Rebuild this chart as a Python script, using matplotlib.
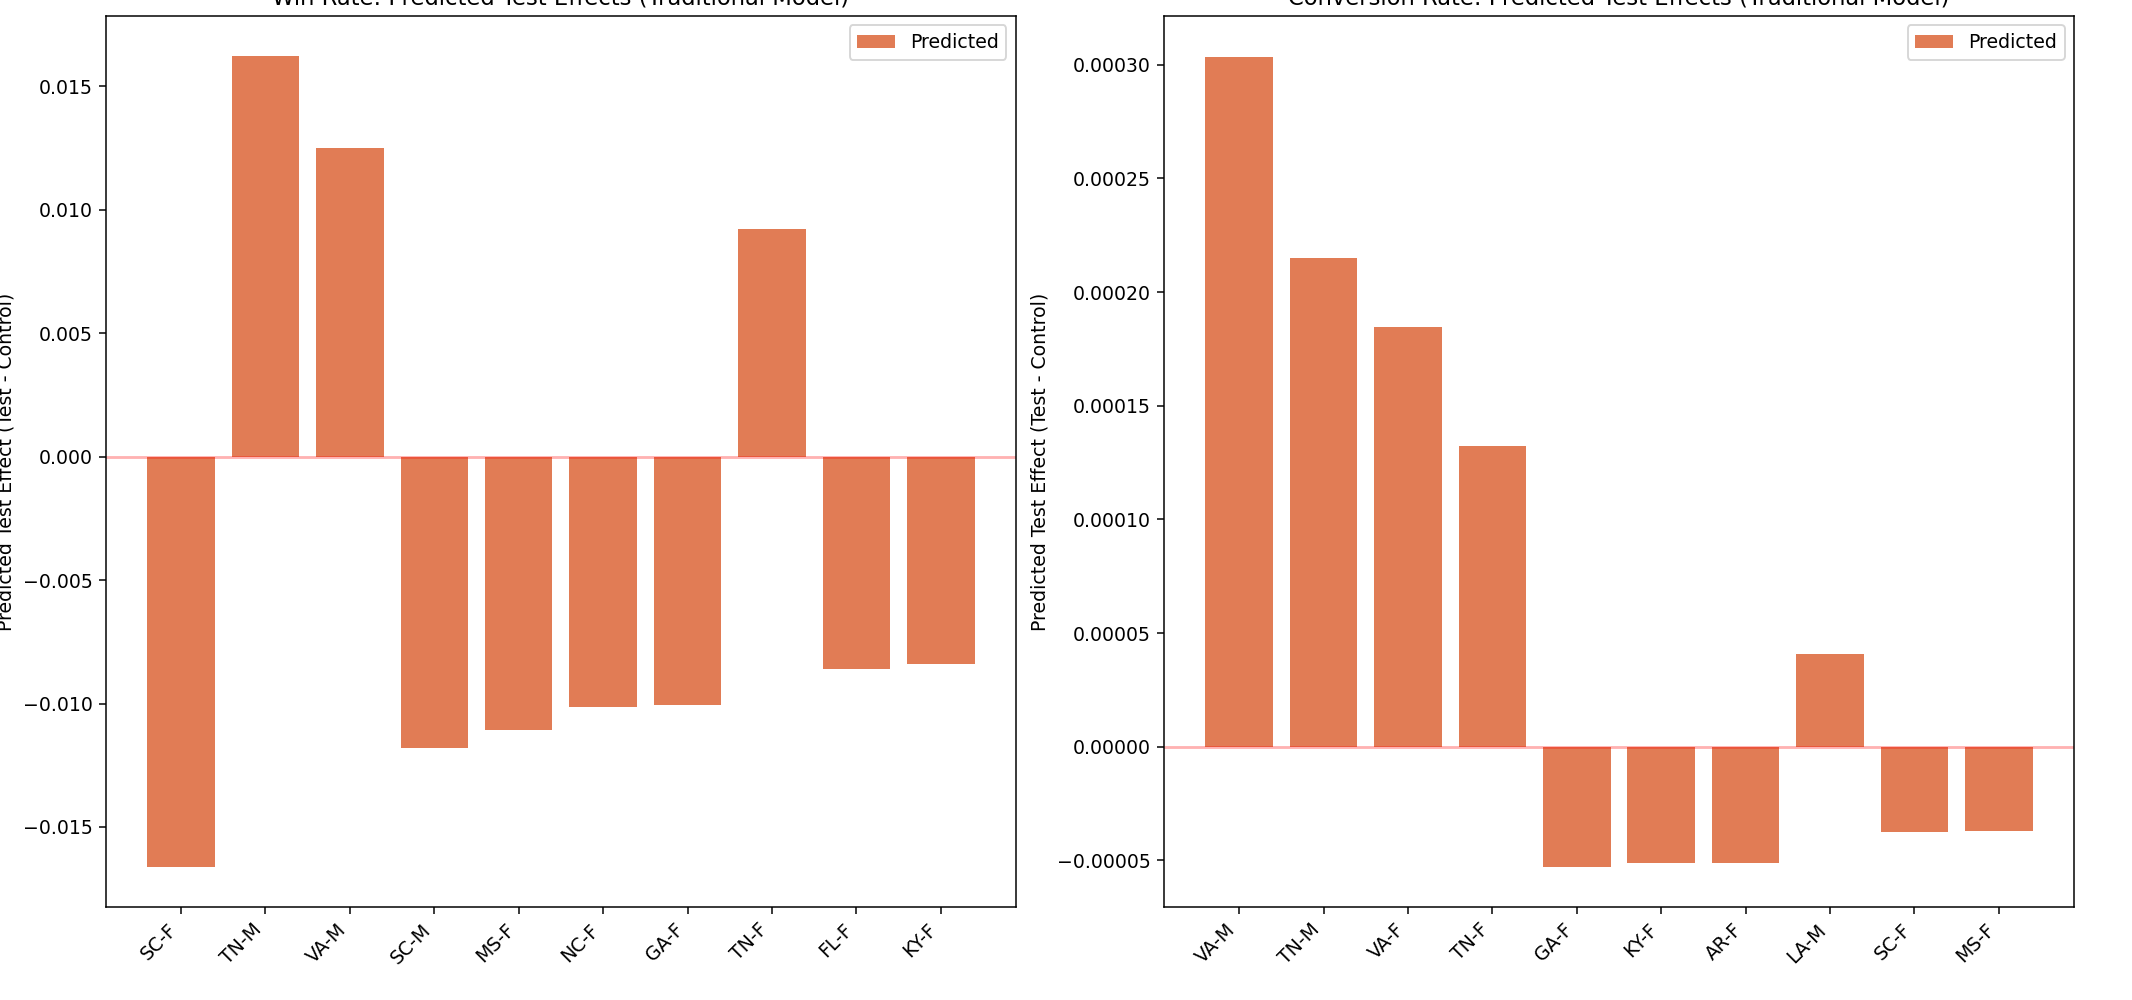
import matplotlib
matplotlib.use("Agg")
import matplotlib.pyplot as plt

# ---- data ----
win_labels = ["SC-F", "TN-M", "VA-M", "SC-M", "MS-F", "NC-F", "GA-F", "TN-F", "FL-F", "KY-F"]
win_values = [-0.01660, 0.01621, 0.01252, -0.01180, -0.01108, -0.01015, -0.01004, 0.00921, -0.00860, -0.00838]

conv_labels = ["VA-M", "TN-M", "VA-F", "TN-F", "GA-F", "KY-F", "AR-F", "LA-M", "SC-F", "MS-F"]
conv_values = [0.0003036, 0.0002150, 0.0001844, 0.0001323, -0.0000527, -0.0000510, -0.0000510,
               0.0000407, -0.0000377, -0.0000371]

titles = ["Win Rate: Predicted Test Effects (Traditional Model)",
          "Conversion Rate: Predicted Test Effects (Traditional Model)"]
ylabel = "Predicted Test Effect (Test - Control)"

DPI = 136
fig = plt.figure(figsize=(2132 / DPI, 1000 / DPI), dpi=DPI)
ax1 = fig.add_axes([0.0497, 0.093, 0.4268, 0.891])
ax2 = fig.add_axes([0.546, 0.093, 0.4268, 0.891])

bar_color = "#DA5B2B"
for ax, labels, values, title in [(ax1, win_labels, win_values, titles[0]),
                                  (ax2, conv_labels, conv_values, titles[1])]:
    x = list(range(len(labels)))
    ax.bar(x, values, width=0.8, color=bar_color, alpha=0.8, label="Predicted")
    ax.axhline(0, color="red", alpha=0.3, linewidth=1.5)
    ax.set_xticks(x)
    ax.set_xticklabels(labels, rotation=45, ha="right")
    ax.set_ylabel(ylabel)
    ax.set_title(title, fontsize=12)
    ax.legend(loc="upper right")

fig.savefig("out.png", dpi=DPI)
